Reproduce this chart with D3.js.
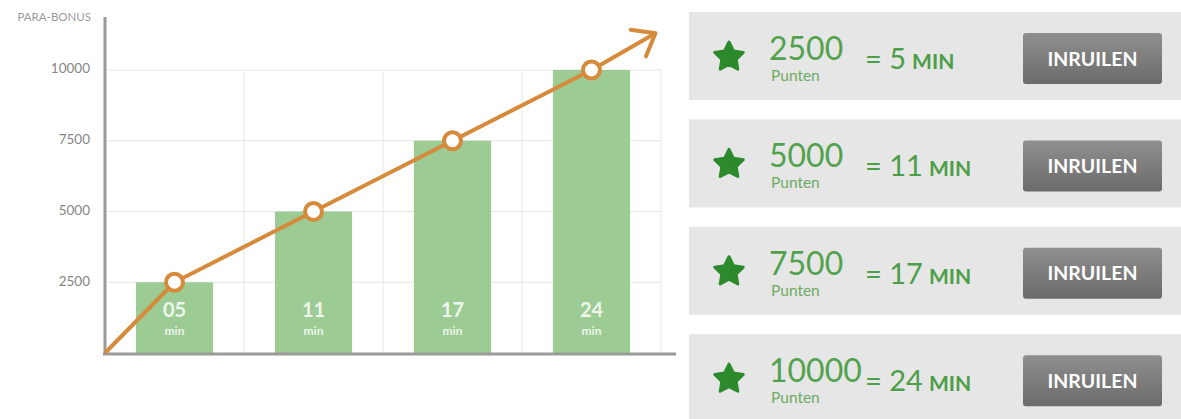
<html>
<head>
<script src="https://d3js.org/d3.v7.min.js"></script>
<style>
  body { margin: 0; background: #fff; }
  text { font-family: Lato, "Open Sans", sans-serif; }
  .tick-label { font-size: 13.5px; fill: #858585; }
</style>
</head>
<body>
<svg id="chart" width="1181" height="419"></svg>
<script>
  // data
  const bonusPoints = [2500, 5000, 7500, 10000];
  const minutes = [5, 11, 17, 24];
  const barLabels = ["05", "11", "17", "24"];
  const yTicks = [2500, 5000, 7500, 10000];
  const axisTitle = "PARA-BONUS";
  const unitLabel = "min";
  const pointsLabel = "Punten";
  const buttonLabel = "INRUILEN";

  const svg = d3.select("svg#chart");
  const orange = "#d68a3b";

  // ---------- left chart ----------
  let margin = {"top": 17, "left": 105, "bottom": 354, "right": 661};
  const xScale = d3.scaleBand().domain(d3.range(bonusPoints.length))
      .range([margin.left, margin.right]).paddingInner(0.445).paddingOuter(0.2225);
  const yScale = d3.scaleLinear().domain([0, 10000]).range([353, 70]);
  const step = xScale.step();
  const cx = i => xScale(i) + xScale.bandwidth() / 2;

  const grid = svg.append("g");
  grid.selectAll("line.h").data(yTicks).enter().append("line")
      .attr("x1", margin.left).attr("x2", margin.right)
      .attr("y1", d => yScale(d)).attr("y2", d => yScale(d))
      .attr("stroke", "#e6e6e6").attr("stroke-width", 1);
  grid.selectAll("line.v").data(d3.range(1, bonusPoints.length + 1)).enter().append("line")
      .attr("x1", d => margin.left + d * step).attr("x2", d => margin.left + d * step)
      .attr("y1", yScale(10000)).attr("y2", yScale(0))
      .attr("stroke", "#e2eee0").attr("stroke-width", 1);

  svg.selectAll("text.tick-label").data(yTicks).enter().append("text")
      .attr("class", "tick-label")
      .attr("x", 90).attr("y", d => yScale(d))
      .attr("text-anchor", "end").attr("dominant-baseline", "middle")
      .text(d => d);

  svg.append("text").attr("x", 91).attr("y", 21).attr("text-anchor", "end")
      .style("font-size", "11.5px").style("fill", "#9a9a9a").text(axisTitle);

  // bars
  svg.selectAll("rect.bar").data(bonusPoints).enter().append("rect")
      .attr("class", "bar")
      .attr("x", (d, i) => xScale(i)).attr("width", xScale.bandwidth())
      .attr("y", d => yScale(d)).attr("height", d => yScale(0) - yScale(d))
      .attr("fill", "#9ccb94");

  svg.selectAll("text.barnum").data(barLabels).enter().append("text")
      .attr("x", (d, i) => cx(i)).attr("y", 317)
      .attr("text-anchor", "middle")
      .style("font-size", "20px").style("font-weight", "bold").style("fill", "#eef7ec").text(d => d);
  svg.selectAll("text.barunit").data(barLabels).enter().append("text")
      .attr("x", (d, i) => cx(i)).attr("y", 335)
      .attr("text-anchor", "middle")
      .style("font-size", "12px").style("font-weight", "bold").style("fill", "#eef6ec").text(unitLabel);

  // axes
  svg.append("line").attr("x1", margin.left).attr("x2", margin.left)
      .attr("y1", margin.top).attr("y2", margin.bottom + 1)
      .attr("stroke", "#9a9a9a").attr("stroke-width", 3);
  svg.append("line").attr("x1", margin.left - 2).attr("x2", 676)
      .attr("y1", margin.bottom).attr("y2", margin.bottom)
      .attr("stroke", "#9a9a9a").attr("stroke-width", 3);

  // orange trend line with arrow
  let pts = [[margin.left, yScale(0)]];
  bonusPoints.forEach((d, i) => pts.push([cx(i), yScale(d)]));
  const last = pts[pts.length - 1], prev = pts[pts.length - 2];
  const tip = [last[0] + (last[0] - prev[0]) * 0.46, last[1] + (last[1] - prev[1]) * 0.52];
  pts.push(tip);

  svg.append("path").attr("d", d3.line()(pts))
      .attr("fill", "none").attr("stroke", orange).attr("stroke-width", 4)
      .attr("stroke-linejoin", "round");

  const ang = Math.atan2(tip[1] - last[1], tip[0] - last[0]) + Math.PI;
  const wing = 25, spread = 0.66;
  const arrow = [
    [tip[0] + wing * Math.cos(ang - spread), tip[1] + wing * Math.sin(ang - spread)],
    tip,
    [tip[0] + wing * Math.cos(ang + spread), tip[1] + wing * Math.sin(ang + spread)]
  ];
  svg.append("path").attr("d", d3.line()(arrow))
      .attr("fill", "none").attr("stroke", orange).attr("stroke-width", 4)
      .attr("stroke-linecap", "round").attr("stroke-linejoin", "round");

  svg.selectAll("circle.pt").data(bonusPoints).enter().append("circle")
      .attr("cx", (d, i) => cx(i)).attr("cy", d => yScale(d)).attr("r", 8.5)
      .attr("fill", "#fff").attr("stroke", orange).attr("stroke-width", 4);

  // ---------- right panels ----------
  const rowScale = d3.scaleBand().domain(d3.range(bonusPoints.length))
      .range([12, 12 + 3 * 107.4 + 88]).paddingInner(0.18).paddingOuter(0);

  const defs = svg.append("defs");
  const grad = defs.append("linearGradient").attr("id", "btn").attr("x1", 0).attr("x2", 0).attr("y1", 0).attr("y2", 1);
  grad.append("stop").attr("offset", "0%").attr("stop-color", "#8f8f8f");
  grad.append("stop").attr("offset", "100%").attr("stop-color", "#6b6b6b");

  const starLine = d3.lineRadial().curve(d3.curveLinearClosed);
  const starPts = d3.range(10).map(k => [k * Math.PI / 5, k % 2 ? 7.5 : 15]);

  const rows = svg.selectAll("g.row").data(bonusPoints).enter().append("g")
      .attr("transform", (d, i) => "translate(0," + rowScale(i) + ")");

  rows.append("rect").attr("x", 689).attr("width", 500).attr("height", rowScale.bandwidth())
      .attr("fill", "#e6e6e6");

  rows.append("path").attr("d", starLine(starPts))
      .attr("transform", "translate(729,45)")
      .attr("fill", "#2c8a2c").attr("stroke", "#2c8a2c").attr("stroke-width", 3)
      .attr("stroke-linejoin", "round");

  rows.append("text").attr("x", 769).attr("y", 48)
      .style("font-size", "32px").style("fill", "#52a24d").text(d => d);
  rows.append("text").attr("x", 771).attr("y", 69)
      .style("font-size", "15.5px").style("fill", "#6dab63").text(pointsLabel);

  const eq = rows.append("text").attr("x", 865).attr("y", 57).style("fill", "#4c9e48");
  eq.append("tspan").style("font-size", "29px").text((d, i) => "= " + minutes[i]);
  eq.append("tspan").style("font-size", "21px").style("font-weight", "bold").attr("dx", 6).text("MIN");

  rows.append("rect").attr("x", 1023).attr("y", 21).attr("width", 139).attr("height", 51)
      .attr("rx", 3).attr("fill", "url(#btn)");
  rows.append("text").attr("x", 1092.5).attr("y", 53.5).attr("text-anchor", "middle")
      .style("font-size", "19.5px").style("font-weight", "bold").style("fill", "#fff")
      .text(buttonLabel);
</script>
</body>
</html>
